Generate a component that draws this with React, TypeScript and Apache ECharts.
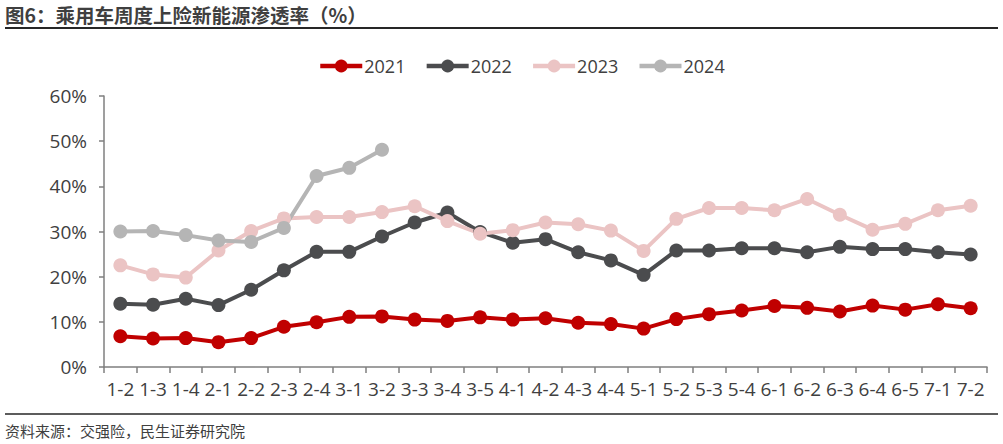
import { useEffect, useRef } from "react"
import * as echarts from "echarts"

const weeks = [
  "1-2", "1-3", "1-4", "2-1", "2-2", "2-3", "2-4", "3-1", "3-2", "3-3", "3-4", "3-5", "4-1", "4-2",
  "4-3", "4-4", "5-1", "5-2", "5-3", "5-4", "6-1", "6-2", "6-3", "6-4", "6-5", "7-1", "7-2",
]

const y2021 = [
  6.8, 6.3, 6.4, 5.5, 6.4, 8.9, 9.9, 11.1, 11.2, 10.5, 10.2, 11.0, 10.5, 10.8,
  9.8, 9.5, 8.5, 10.6, 11.7, 12.5, 13.5, 13.1, 12.3, 13.6, 12.7, 13.9, 13.0,
]
const y2022 = [
  14.0, 13.8, 15.1, 13.7, 17.1, 21.4, 25.5, 25.5, 28.9, 32.0, 34.2, 29.9, 27.5, 28.3,
  25.4, 23.6, 20.4, 25.8, 25.8, 26.3, 26.3, 25.4, 26.6, 26.1, 26.1, 25.4, 24.9,
]
const y2023 = [
  22.5, 20.5, 19.8, 25.8, 30.1, 32.9, 33.2, 33.2, 34.3, 35.6, 32.3, 29.5, 30.3, 32.0,
  31.6, 30.2, 25.7, 32.8, 35.2, 35.2, 34.7, 37.2, 33.7, 30.4, 31.7, 34.7, 35.7,
]
const y2024 = [30.0, 30.1, 29.2, 28.0, 27.7, 30.8, 42.3, 44.1, 48.1]

const seriesDefs = [
  { name: "2021", data: y2021, color: "#C00000" },
  { name: "2022", data: y2022, color: "#4B4C4E" },
  { name: "2023", data: y2023, color: "#EBC4C4" },
  { name: "2024", data: y2024, color: "#B5B5B5" },
]

const textColor = "#404040"
const font = "'Open Sans', 'Noto Sans CJK SC', sans-serif"
const cjkFont = "'Noto Sans CJK SC', sans-serif"

export default function App() {
  const chartRef = useRef<HTMLDivElement>(null)

  useEffect(() => {
    document.body.style.margin = "0"
    if (!chartRef.current) return
    const chart = echarts.init(chartRef.current, undefined, { renderer: "svg" })

    chart.setOption({
      animation: false,
      textStyle: { fontFamily: font },
      legend: {
        top: 57,
        left: 318,
        padding: 0,
        itemWidth: 42,
        itemHeight: 16,
        itemGap: 19,
        lineStyle: { width: 4.5 },
        textStyle: { color: textColor, fontSize: 18, fontFamily: font, padding: [0, 0, 0, -3] },
        data: seriesDefs.map((s) => s.name),
      },
      grid: { left: 104, right: 16, top: 96, bottom: 77 },
      xAxis: {
        type: "category",
        data: weeks,
        boundaryGap: true,
        axisLine: { lineStyle: { color: "#7F7F7F", width: 1.5 } },
        axisTick: { show: true, length: 6, lineStyle: { color: "#7F7F7F", width: 1.5 } },
        axisLabel: { color: textColor, fontSize: 19, margin: 12, interval: 0, fontFamily: font },
      },
      yAxis: {
        type: "value",
        min: 0,
        max: 60,
        interval: 10,
        axisLine: { show: true, lineStyle: { color: "#7F7F7F", width: 1.5 } },
        axisTick: { show: true, length: 5, lineStyle: { color: "#7F7F7F", width: 1.5 } },
        axisLabel: { color: textColor, fontSize: 19, margin: 17, formatter: "{value}%", fontFamily: font },
        splitLine: { show: false },
      },
      series: seriesDefs.map((s) => ({
        name: s.name,
        type: "line",
        data: s.data,
        symbol: "circle",
        symbolSize: 14,
        color: s.color,
        lineStyle: { color: s.color, width: 4 },
        itemStyle: { color: s.color },
      })),
      graphic: [
        {
          type: "text",
          left: 5,
          top: 5,
          style: {
            text: "图6：乘用车周度上险新能源渗透率（%）",
            fill: "#3F3F3F",
            fontSize: 19.5,
            fontWeight: "bold",
            fontFamily: cjkFont,
          },
        },
        {
          type: "line",
          shape: { x1: 5, y1: 28, x2: 998, y2: 28 },
          style: { stroke: "#262626", lineWidth: 1.8 },
        },
        {
          type: "line",
          shape: { x1: 5, y1: 414, x2: 998, y2: 414 },
          style: { stroke: "#262626", lineWidth: 1.5 },
        },
        {
          type: "text",
          left: 5,
          top: 423,
          style: {
            text: "资料来源：交强险，民生证券研究院",
            fill: textColor,
            fontSize: 15,
            fontFamily: cjkFont,
          },
        },
      ],
    })

    return () => chart.dispose()
  }, [])

  return <div ref={chartRef} style={{ width: 1003, height: 444 }} />
}
